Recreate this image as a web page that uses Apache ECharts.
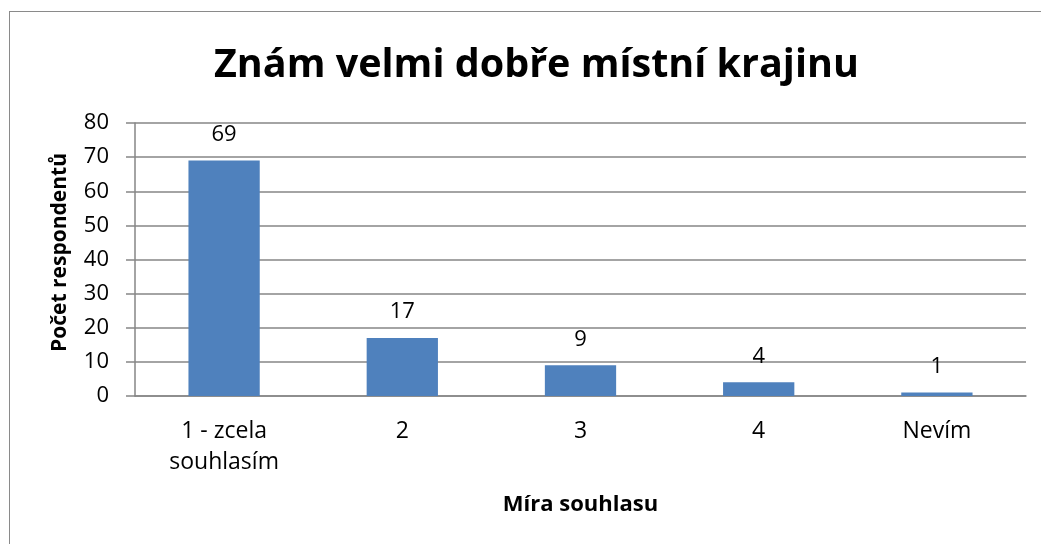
<!DOCTYPE html>
<html>
<head>
<meta charset="utf-8">
<script src="https://cdn.jsdelivr.net/npm/echarts@6/dist/echarts.min.js"></script>
<style>
html,body{margin:0;padding:0;background:#fff;}
#frame{position:absolute;left:9px;top:11px;width:1100px;height:600px;border-top:1px solid #8a8a8a;border-left:1px solid #8a8a8a;}
#chart{position:absolute;left:0;top:0;width:1041px;height:544px;}
</style>
</head>
<body>
<div id="frame"></div>
<div id="chart"></div>
<script>
var categories = ['1 - zcela\nsouhlasím', '2', '3', '4', 'Nevím'];
var values = [69, 17, 9, 4, 1];

var font = 'Open Sans';
var chart = echarts.init(document.getElementById('chart'));
var option = {
	title: {
		text: 'Znám velmi dobře místní krajinu',
		left: 209,
		top: 41,
		textStyle: {
			fontFamily: font,
			fontSize: 39.5,
			fontWeight: 'bold',
			color: '#000'
		}
	},
	grid: {
		left: 135,
		right: 15,
		top: 123,
		bottom: 148
	},
	xAxis: {
		type: 'category',
		data: categories,
		name: 'Míra souhlasu',
		nameLocation: 'middle',
		nameGap: 98,
		nameTextStyle: { fontFamily: font, fontSize: 22, fontWeight: 'bold', color: '#000' },
		axisLine: { lineStyle: { color: '#868686', width: 1.5 } },
		axisTick: { show: false },
		axisLabel: { fontFamily: font, fontSize: 23, color: '#000', margin: 20, lineHeight: 31 }
	},
	yAxis: {
		type: 'value',
		min: 0,
		max: 80,
		interval: 10,
		name: 'Počet respondentů',
		nameLocation: 'middle',
		nameGap: 64,
		nameTextStyle: { fontFamily: font, fontSize: 21, fontWeight: 'bold', color: '#000', padding: [0, 0, 0, 14] },
		axisLine: { show: true, lineStyle: { color: '#868686', width: 1.5 } },
		axisTick: { show: true, length: 9, lineStyle: { color: '#868686', width: 1.5 } },
		splitLine: { lineStyle: { color: '#868686', width: 1.5 } },
		axisLabel: { fontFamily: font, fontSize: 22, color: '#000', margin: 26 }
	},
	series: [{
		type: 'bar',
		data: values,
		barWidth: '40%',
		itemStyle: { color: '#4F81BD' },
		label: {
			show: true,
			position: 'top',
			distance: 15,
			fontFamily: font,
			fontSize: 22,
			color: '#000'
		}
	}]
};
chart.setOption(option);
</script>
</body>
</html>
